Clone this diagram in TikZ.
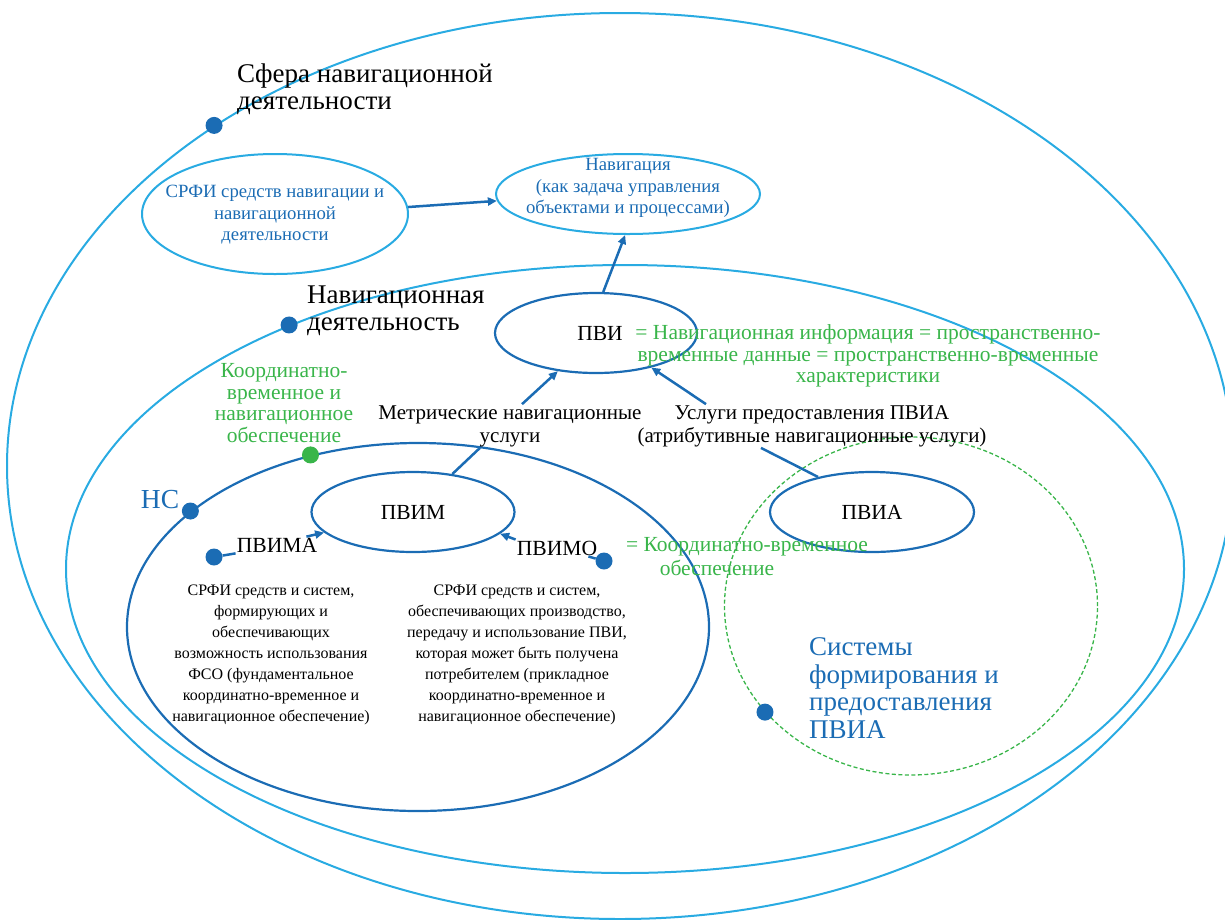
\documentclass[tikz,border=0pt]{standalone}
\usepackage{fontspec}
\setmainfont{Liberation Serif}
\usetikzlibrary{shapes.geometric,arrows.meta}
\definecolor{lb}{HTML}{29ABE2}
\definecolor{db}{HTML}{1B6CB4}
\definecolor{gr}{HTML}{39B54A}
\begin{document}
\begin{tikzpicture}[x=1pt,y=-1pt,
  lbell/.style={ellipse, draw=lb, line width=2pt, inner sep=0pt},
  dbell/.style={ellipse, draw=db, line width=2.2pt, inner sep=0pt, font=\fontsize{21.5}{24}\selectfont},
  dotb/.style={circle, fill=db, inner sep=0pt, minimum size=17pt},
  dotg/.style={circle, fill=gr, inner sep=0pt, minimum size=17pt},
  conn/.style={draw=db, line width=2.5pt},
  arr/.style={conn, -{Triangle[length=9pt,width=8pt]}},
  txt/.style={inner sep=1pt, align=center},
  bigblack/.style={txt, align=left, anchor=west, font=\fontsize{27}{26.5}\selectfont},
  midblack/.style={txt, font=\fontsize{21}{23}\selectfont},
  greentxt/.style={txt, text=gr, font=\fontsize{21.5}{21.5}\selectfont},
  smalltxt/.style={txt, font=\fontsize{16}{21}\selectfont},
  bluetxt/.style={txt, text=db, font=\fontsize{18.7}{21.5}\selectfont},
  lbl/.style={txt, font=\fontsize{21.6}{24}\selectfont}
]
\useasboundingbox (0,0) rectangle (1225,919);
\clip (0,0) rectangle (1225,919);
% ellipses
\node[lbell, minimum width=1226pt, minimum height=906pt] (sphere) at (620,466) {};
\node[lbell, minimum width=1118pt, minimum height=608pt] (navd) at (625,569) {};
\node[dbell, minimum width=582pt, minimum height=368pt] (ns) at (418,627) {};
\node[ellipse, draw=gr, line width=1.3pt, dash pattern=on 4pt off 2.5pt, inner sep=0pt,
      minimum width=373pt, minimum height=338pt] (sys) at (911,606) {};
\node[lbell, minimum width=266pt, minimum height=120pt] (srfi) at (275,214) {};
\node[lbell, minimum width=264pt, minimum height=80pt] (nav) at (628,194) {};
\node[dbell, minimum width=202pt, minimum height=80pt] (pvi) at (596,333) {\hspace*{8pt}ПВИ};
\node[dbell, minimum width=203pt, minimum height=80pt] (pvim) at (413,512) {ПВИМ};
\node[dbell, minimum width=204pt, minimum height=80pt] (pvia) at (872,512) {ПВИА};
% texts
\node[bluetxt] (srfit) at (275,215) {СРФИ средств навигации и\\навигационной\\деятельности};
\node[bluetxt] (navt) at (628,188) {Навигация\\(как задача управления\\объектами и процессами)};
\node[bigblack] (sferat) at (236,89) {Сфера навигационной\\деятельности};
\node[bigblack] (navdt) at (306,311) {Навигационная\\деятельность};
\node[greentxt] (koordt) at (284,403) {Координатно-\\временное и\\навигационное\\обеспечение};
\node[txt, text=db, font=\fontsize{27.5}{30}\selectfont] (nst) at (160,500) {НС};
\node[midblack] (metr) at (510,426) {Метрические навигационные\\услуги};
\node[midblack] (usl) at (812,426) {Услуги предоставления ПВИА\\(атрибутивные навигационные услуги)};
\node[greentxt] (pvidesc) at (868,356) {= Навигационная информация = пространственно-\\временные данные = пространственно-временные\\характеристики};
\node[greentxt] (kvo1) at (747,547) {= Координатно-временное};
\node[greentxt] (kvo2) at (717,568) {обеспечение};
\node[lbl] (pvima) at (277,545) {ПВИМА};
\node[lbl] (pvimo) at (557,548) {ПВИМО};
\node[smalltxt] (leftcol) at (271,655) {СРФИ средств и систем,\\формирующих и\\обеспечивающих\\возможность использования\\ФСО (фундаментальное\\координатно-временное и\\навигационное обеспечение)};
\node[smalltxt] (rightcol) at (517,655) {СРФИ средств и систем,\\обеспечивающих производство,\\передачу и использование ПВИ,\\которая может быть получена\\потребителем (прикладное\\координатно-временное и\\навигационное обеспечение)};
\node[txt, align=left, anchor=west, text=db, font=\fontsize{27}{27.7}\selectfont] (sist) at (808,688) {Системы\\формирования и\\предоставления\\ПВИА};
% dots
\node[dotb] (d1) at (sphere.140.6) {};
\node[dotb] (d2) at (navd.144.1) {};
\node[dotb] (d3) at (ns.153.3) {};
\node[dotg] (d4) at (ns.122.1) {};
\node[dotb] (d5) at (sys.216.2) {};
\node[dotb] (dpvima) at (214,557) {};
\node[dotb] (dpvimo) at (604,561) {};
% connectors
\draw[arr] (srfi.3) -- (nav.183);
\draw[arr] (pvi.80) -- (nav.266);
\draw[conn] (pvim.44) -- ([xshift=-30pt]metr.south);
\draw[arr] ([xshift=12pt]metr.north) -- (pvi.225);
\draw[arr] ([xshift=-106pt]usl.north) -- (pvi.328);
\draw[conn] (pvia.147) -- ([xshift=-51pt]usl.south);
\draw[conn] (dpvima) -- (pvima.south west);
\draw[arr] ([xshift=-12pt]pvima.north east) -- (pvim.193);
\draw[arr] (pvimo.north west) -- (pvim.346);
\draw[conn] (dpvimo) -- ([xshift=-10pt]pvimo.south east);
\end{tikzpicture}
\end{document}
